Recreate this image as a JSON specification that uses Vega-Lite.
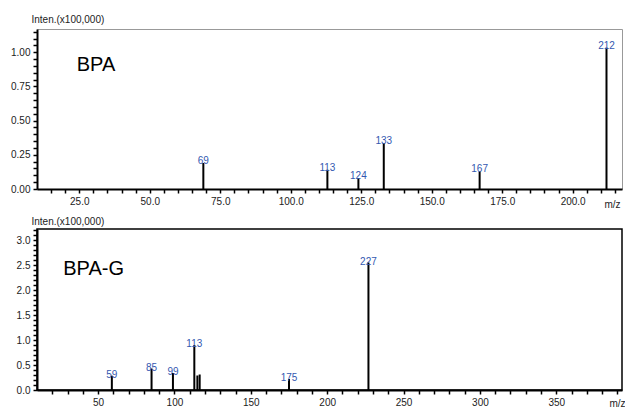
{
  "$schema": "https://vega.github.io/schema/vega-lite/v6.json",
  "padding": {"left": 7, "top": 13, "right": 0, "bottom": 0},
  "spacing": 5,
  "background": "white",
  "config": {
    "font": "Liberation Sans",
    "axis": {
      "domainColor": "#000",
      "domainWidth": 2,
      "tickColor": "#000",
      "tickWidth": 1.5,
      "tickSize": 4,
      "tickCount": 200,
      "labelFont": "Liberation Sans",
      "labelFontSize": 10,
      "labelColor": "#222",
      "labelPadding": 3,
      "labelOverlap": false,
      "labelFlush": false,
      "grid": false,
      "titleFont": "Liberation Sans",
      "titleFontSize": 10,
      "titleFontWeight": "normal",
      "titleColor": "#222"
    }
  },
  "vconcat": [
    {
      "width": 585,
      "height": 160,
      "view": {"stroke": "#999", "strokeWidth": 1},
      "layer": [
        {
          "data": {"name": "bpa", "values": [
            {"mz": 69, "inten": 0.19, "label": "69"},
            {"mz": 113, "inten": 0.141, "label": "113"},
            {"mz": 124, "inten": 0.08, "label": "124"},
            {"mz": 133, "inten": 0.336, "label": "133"},
            {"mz": 167, "inten": 0.129, "label": "167"},
            {"mz": 212, "inten": 1.034, "label": "212"}
          ]},
          "mark": {"type": "rule", "color": "#000", "strokeWidth": 2},
          "encoding": {
            "x": {
              "field": "mz", "type": "quantitative",
              "scale": {"domain": [10, 217.5], "nice": false, "zero": false},
              "axis": {
                "values": [15,20,25,30,35,40,45,50,55,60,65,70,75,80,85,90,95,100,105,110,115,120,125,130,135,140,145,150,155,160,165,170,175,180,185,190,195,200,205,210,215],
                "tickCount": 200,
                "labelExpr": "datum.value % 25 === 0 ? format(datum.value, '.1f') : ''",
                "title": "m/z",
                "titleAlign": "left",
                "titleBaseline": "alphabetic",
                "titleX": 567,
                "titleY": 18
              }
            },
            "y": {
              "field": "inten", "type": "quantitative",
              "scale": {"domain": [0, 1.17], "nice": false},
              "axis": {
                "values": [0,0.05,0.1,0.15,0.2,0.25,0.3,0.35,0.4,0.45,0.5,0.55,0.6,0.65,0.7,0.75,0.8,0.85,0.9,0.95,1,1.05,1.1,1.15],
                "tickCount": 200,
                "labelExpr": "abs(datum.value * 4 - round(datum.value * 4)) < 0.001 ? format(datum.value, '.2f') : ''",
                "title": "Inten.(x100,000)",
                "titleAngle": 0,
                "titleAlign": "left",
                "titleBaseline": "alphabetic",
                "titleX": -6,
                "titleY": -7
              }
            },
            "y2": {"datum": 0}
          }
        },
        {
          "data": {"name": "bpa"},
          "mark": {"type": "text", "color": "#3358b0", "fontSize": 10, "align": "center", "baseline": "alphabetic", "dy": 1},
          "encoding": {
            "x": {"field": "mz", "type": "quantitative"},
            "y": {"field": "inten", "type": "quantitative"},
            "text": {"field": "label"}
          }
        },
        {
          "data": {"values": [{"mz": 24.1, "inten": 0.865, "name": "BPA"}]},
          "mark": {"type": "text", "color": "#000", "fontSize": 20, "align": "left", "baseline": "alphabetic"},
          "encoding": {
            "x": {"field": "mz", "type": "quantitative"},
            "y": {"field": "inten", "type": "quantitative"},
            "text": {"field": "name"}
          }
        }
      ]
    },
    {
      "width": 585,
      "height": 161,
      "view": {"stroke": "#000", "strokeWidth": 1.5},
      "layer": [
        {
          "data": {"name": "bpag", "values": [
            {"mz": 59, "inten": 0.286, "label": "59"},
            {"mz": 85, "inten": 0.43, "label": "85"},
            {"mz": 99, "inten": 0.34, "label": "99"},
            {"mz": 113, "inten": 0.9, "label": "113"},
            {"mz": 115, "inten": 0.29},
            {"mz": 116.5, "inten": 0.31},
            {"mz": 175, "inten": 0.22, "label": "175"},
            {"mz": 227, "inten": 2.55, "label": "227"}
          ]},
          "mark": {"type": "rule", "color": "#000", "strokeWidth": 2},
          "encoding": {
            "x": {
              "field": "mz", "type": "quantitative",
              "scale": {"domain": [10, 393], "nice": false, "zero": false},
              "axis": {
                "values": [20,30,40,50,60,70,80,90,100,110,120,130,140,150,160,170,180,190,200,210,220,230,240,250,260,270,280,290,300,310,320,330,340,350,360,370,380,390],
                "tickCount": 200,
                "labelExpr": "datum.value % 50 === 0 ? format(datum.value, 'd') : ''",
                "title": "m/z",
                "titleAlign": "left",
                "titleBaseline": "alphabetic",
                "titleX": 572,
                "titleY": 16
              }
            },
            "y": {
              "field": "inten", "type": "quantitative",
              "scale": {"domain": [0, 3.22], "nice": false},
              "axis": {
                "values": [0,0.1,0.2,0.3,0.4,0.5,0.6,0.7,0.8,0.9,1,1.1,1.2,1.3,1.4,1.5,1.6,1.7,1.8,1.9,2,2.1,2.2,2.3,2.4,2.5,2.6,2.7,2.8,2.9,3,3.1,3.2],
                "tickCount": 200,
                "labelExpr": "abs(datum.value * 2 - round(datum.value * 2)) < 0.001 ? format(datum.value, '.1f') : ''",
                "title": "Inten.(x100,000)",
                "titleAngle": 0,
                "titleAlign": "left",
                "titleBaseline": "alphabetic",
                "titleX": -6,
                "titleY": -5,
                "minExtent": 29,
                "maxExtent": 29
              }
            },
            "y2": {"datum": 0}
          }
        },
        {
          "data": {"name": "bpag"},
          "transform": [{"filter": "isValid(datum.label)"}],
          "mark": {"type": "text", "color": "#3358b0", "fontSize": 10, "align": "center", "baseline": "alphabetic", "dy": 2},
          "encoding": {
            "x": {"field": "mz", "type": "quantitative"},
            "y": {"field": "inten", "type": "quantitative"},
            "text": {"field": "label"}
          }
        },
        {
          "data": {"values": [{"mz": 27.2, "inten": 2.306, "name": "BPA-G"}]},
          "mark": {"type": "text", "color": "#000", "fontSize": 20, "align": "left", "baseline": "alphabetic"},
          "encoding": {
            "x": {"field": "mz", "type": "quantitative"},
            "y": {"field": "inten", "type": "quantitative"},
            "text": {"field": "name"}
          }
        }
      ]
    }
  ]
}
